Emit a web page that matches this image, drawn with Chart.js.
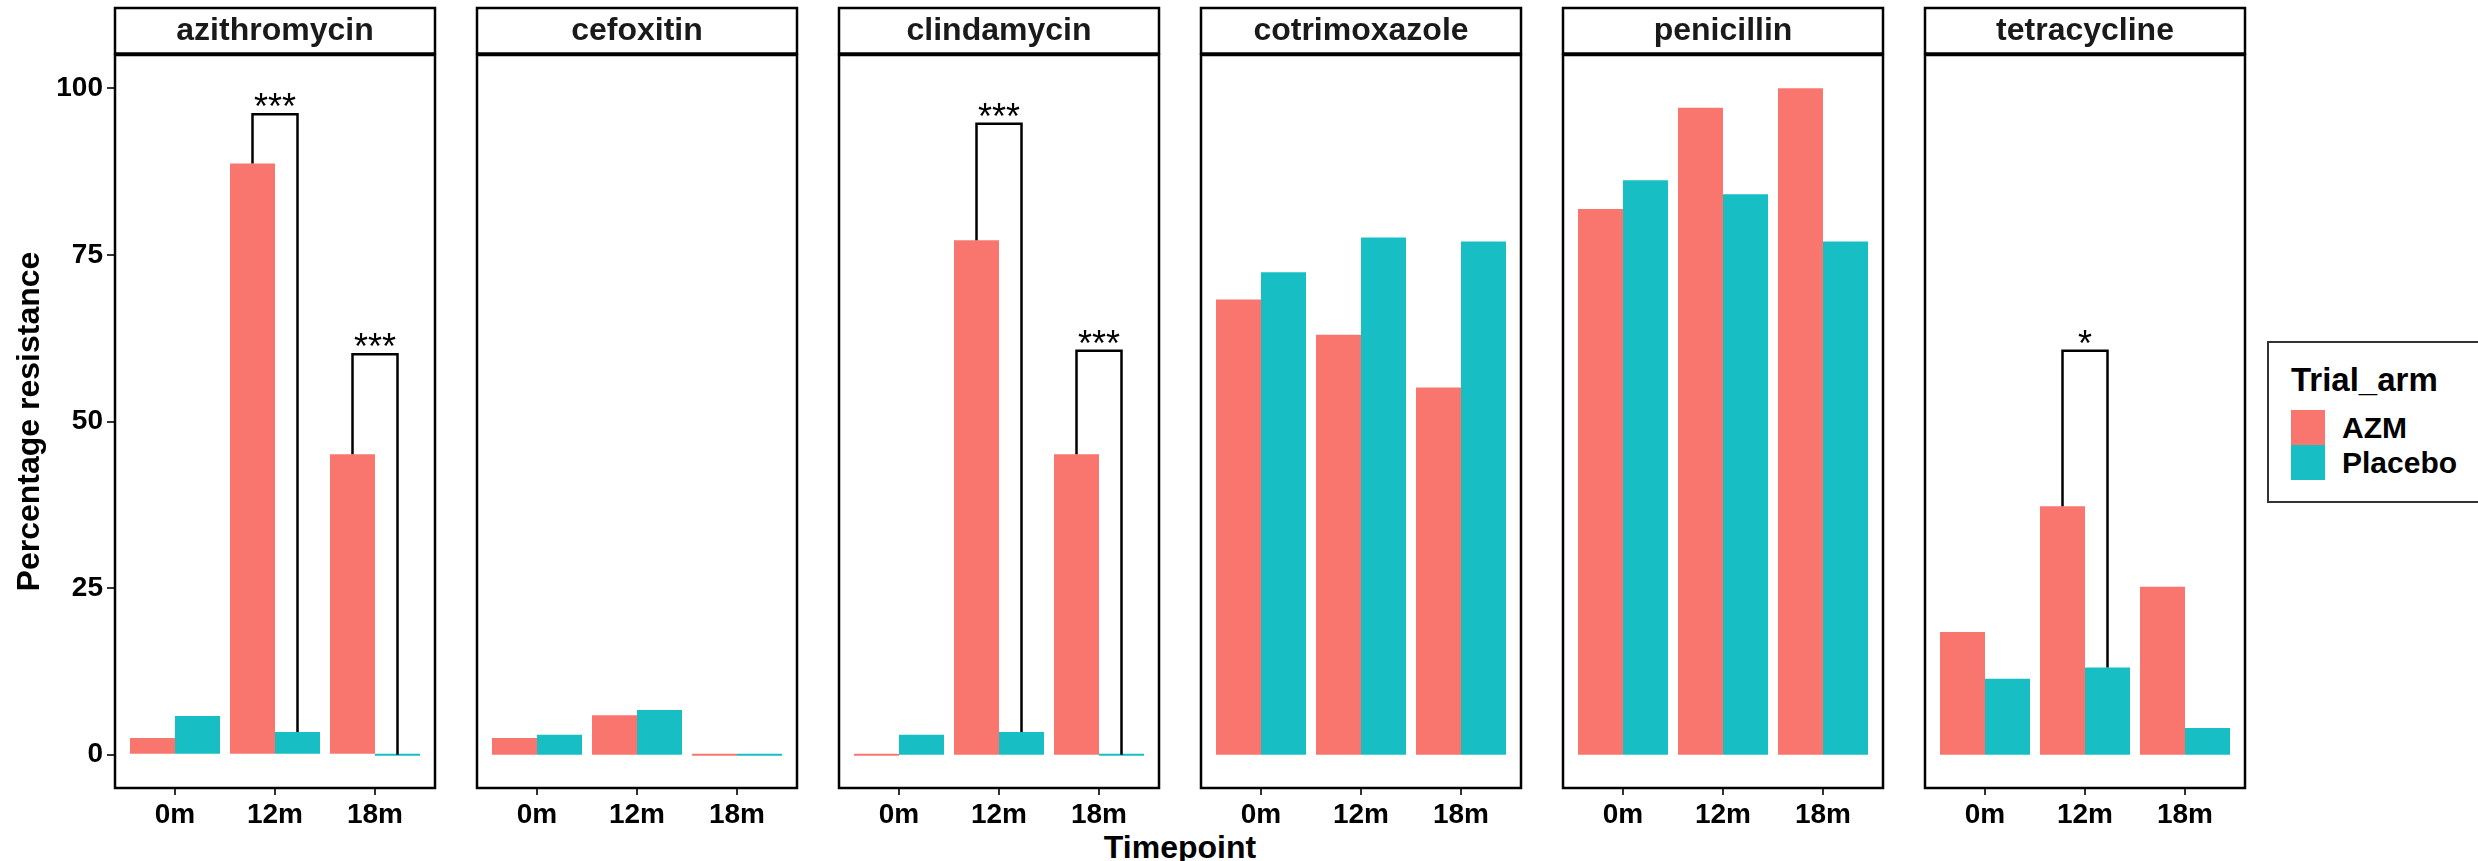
<!DOCTYPE html>
<html>
<head>
<meta charset="utf-8">
<title>Percentage resistance by timepoint</title>
<script src="https://cdn.jsdelivr.net/npm/chart.js@4.4.1/dist/chart.umd.min.js"></script>
<style>
  html, body { margin: 0; padding: 0; background: #fff; }
  #wrap { position: relative; width: 2478px; height: 861px; overflow: hidden; font-family: "Liberation Sans", Arial, sans-serif; color: #000; }
  #wrap canvas { position: absolute; top: 0; }
  .abs { position: absolute; white-space: nowrap; font-weight: bold; }
  .xtitle { left: 0; width: 2360px; top: 831px; text-align: center; font-size: 32px; line-height: 32px; }
  .legend { left: 2267px; top: 341px; width: 240px; height: 162px; box-sizing: border-box; border: 2px solid #333; }
  .legend-title { left: 2291px; top: 363px; font-size: 33px; line-height: 33px; }
  .key { left: 2291px; width: 34px; height: 35px; }
  .key-label { left: 2342px; font-size: 30px; line-height: 30px; }
</style>
</head>
<body>
<div id="wrap">
  <div class="abs xtitle">Timepoint</div>
  <div class="abs legend"></div>
  <div class="abs legend-title">Trial_arm</div>
  <div class="abs key" style="top:410px; background:#F8766D"></div>
  <div class="abs key" style="top:445px; background:#17BFC5"></div>
  <div class="abs key-label" style="top:413px">AZM</div>
  <div class="abs key-label" style="top:448px">Placebo</div>
</div>
<script>
// ===== Resistance by drug / timepoint / arm =====
const drugs = ['azithromycin', 'cefoxitin', 'clindamycin', 'cotrimoxazole', 'penicillin', 'tetracycline'];
const timepoints = ['0m', '12m', '18m'];
const arms = ['AZM', 'Placebo'];
const ARM_COLORS = ['#F8766D', '#17BFC5'];

// % resistant isolates, one row per drug (same order as drugs), columns = timepoints
const azmPct = [
  [2.5, 88.7, 45.1],
  [2.5, 5.9, 0],
  [0, 77.2, 45.1],
  [68.3, 63.0, 55.1],
  [81.9, 97.1, 100],
  [18.4, 37.3, 25.2],
];
const placeboPct = [
  [5.8, 3.4, 0],
  [3.0, 6.7, 0],
  [3.0, 3.4, 0],
  [72.4, 77.6, 77.0],
  [86.2, 84.1, 77.0],
  [11.4, 13.1, 4.0],
];

const yTicks = [0, 25, 50, 75, 100];

// AZM vs placebo comparisons that came out significant
const sigDrug = ['azithromycin', 'azithromycin', 'clindamycin', 'clindamycin', 'tetracycline'];
const sigTime = ['12m', '18m', '12m', '18m', '12m'];
const sigHeight = [96.1, 60.1, 94.7, 60.6, 60.6];
const sigLabel = ['***', '***', '***', '***', '*'];

const PANEL_LEFT = 115;
const PANEL_STEP = 362;
const PANEL_W = 320;
const CANVAS_H = 830;
const STRIP_TOP = 8;
const FONT = '"Liberation Sans", Arial, sans-serif';

Chart.defaults.font.family = FONT;

function toPoints(values) {
  return values.map((v, k) => ({ x: k + 1, y: v }));
}

// border, facet strip and significance brackets for one panel
function panelDeco(i) {
  return {
    id: 'panelDeco',
    afterDatasetsDraw(chart) {
      const { ctx, chartArea: a, scales: { x, y } } = chart;
      const drug = drugs[i];
      ctx.save();

      ctx.strokeStyle = '#000';
      ctx.fillStyle = '#000';
      ctx.lineWidth = 2.5;
      ctx.font = `36px ${FONT}`;
      ctx.textAlign = 'center';
      ctx.textBaseline = 'alphabetic';
      sigDrug.forEach((d, k) => {
        if (d !== drug) return;
        const t = timepoints.indexOf(sigTime[k]);
        const xa = x.getPixelForValue(t + 1 - 0.225);
        const xb = x.getPixelForValue(t + 1 + 0.225);
        const top = y.getPixelForValue(sigHeight[k]);
        ctx.beginPath();
        ctx.moveTo(xa, y.getPixelForValue(azmPct[i][t]));
        ctx.lineTo(xa, top);
        ctx.lineTo(xb, top);
        ctx.lineTo(xb, y.getPixelForValue(placeboPct[i][t]));
        ctx.stroke();
        ctx.fillText(sigLabel[k], (xa + xb) / 2, top + 5);
      });

      ctx.lineWidth = 2.5;
      ctx.strokeRect(a.left, a.top, a.right - a.left, a.bottom - a.top);

      const sh = a.top - 1.5 - STRIP_TOP;
      ctx.fillStyle = '#fff';
      ctx.fillRect(a.left, STRIP_TOP, a.right - a.left, sh);
      ctx.strokeRect(a.left, STRIP_TOP, a.right - a.left, sh);
      ctx.fillStyle = '#1a1a1a';
      ctx.font = `bold 32px ${FONT}`;
      ctx.textBaseline = 'middle';
      ctx.fillText(drug, (a.left + a.right) / 2, (STRIP_TOP + a.top) / 2);
      ctx.restore();
    },
  };
}

function renderPanel(i) {
  const first = i === 0;
  const left = first ? 0 : PANEL_LEFT + PANEL_STEP * i - 3;
  const width = first ? PANEL_LEFT + PANEL_W + 3 : PANEL_W + 6;
  const cv = document.createElement('canvas');
  cv.width = width;
  cv.height = CANVAS_H;
  cv.style.left = left + 'px';
  cv.style.width = width + 'px';
  cv.style.height = CANVAS_H + 'px';
  document.getElementById('wrap').appendChild(cv);

  new Chart(cv, {
    type: 'bar',
    data: {
      datasets: [
        { label: arms[0], data: toPoints(azmPct[i]), backgroundColor: ARM_COLORS[0] },
        { label: arms[1], data: toPoints(placeboPct[i]), backgroundColor: ARM_COLORS[1] },
      ],
    },
    options: {
      responsive: false,
      animation: false,
      devicePixelRatio: 1,
      layout: { padding: { top: 55, left: first ? 0 : 3, right: 3, bottom: 0 } },
      datasets: { bar: { categoryPercentage: 0.9, barPercentage: 1, minBarLength: 2, borderWidth: 0 } },
      plugins: { legend: { display: false }, tooltip: { enabled: false } },
      scales: {
        x: {
          type: 'linear',
          min: 0.4,
          max: 3.6,
          offset: false,
          afterBuildTicks: s => { s.ticks = timepoints.map((_, k) => ({ value: k + 1 })); },
          afterFit: s => { s.height = CANVAS_H - 788; },
          ticks: {
            callback: (v, k) => timepoints[k],
            font: { size: 28, weight: 'bold' },
            color: '#000',
            padding: 3,
            maxRotation: 0,
            autoSkip: false,
          },
          grid: { offset: false, drawOnChartArea: false, tickLength: 7, lineWidth: 2, color: '#333' },
          border: { display: false },
        },
        y: {
          display: first,
          min: -5,
          max: 105,
          afterBuildTicks: s => { s.ticks = yTicks.map(v => ({ value: v })); },
          afterFit: s => { if (first) s.width = PANEL_LEFT; },
          ticks: { font: { size: 28, weight: 'bold' }, color: '#000', padding: 4 },
          grid: { drawOnChartArea: false, tickLength: 8, lineWidth: 2, color: '#333' },
          border: { display: false },
          title: {
            display: true,
            text: 'Percentage resistance',
            font: { size: 32, weight: 'bold' },
            color: '#000',
            padding: { top: 11, bottom: 0 },
          },
        },
      },
    },
    plugins: [panelDeco(i)],
  });
}

drugs.forEach((_, i) => renderPanel(i));
</script>
</body>
</html>
